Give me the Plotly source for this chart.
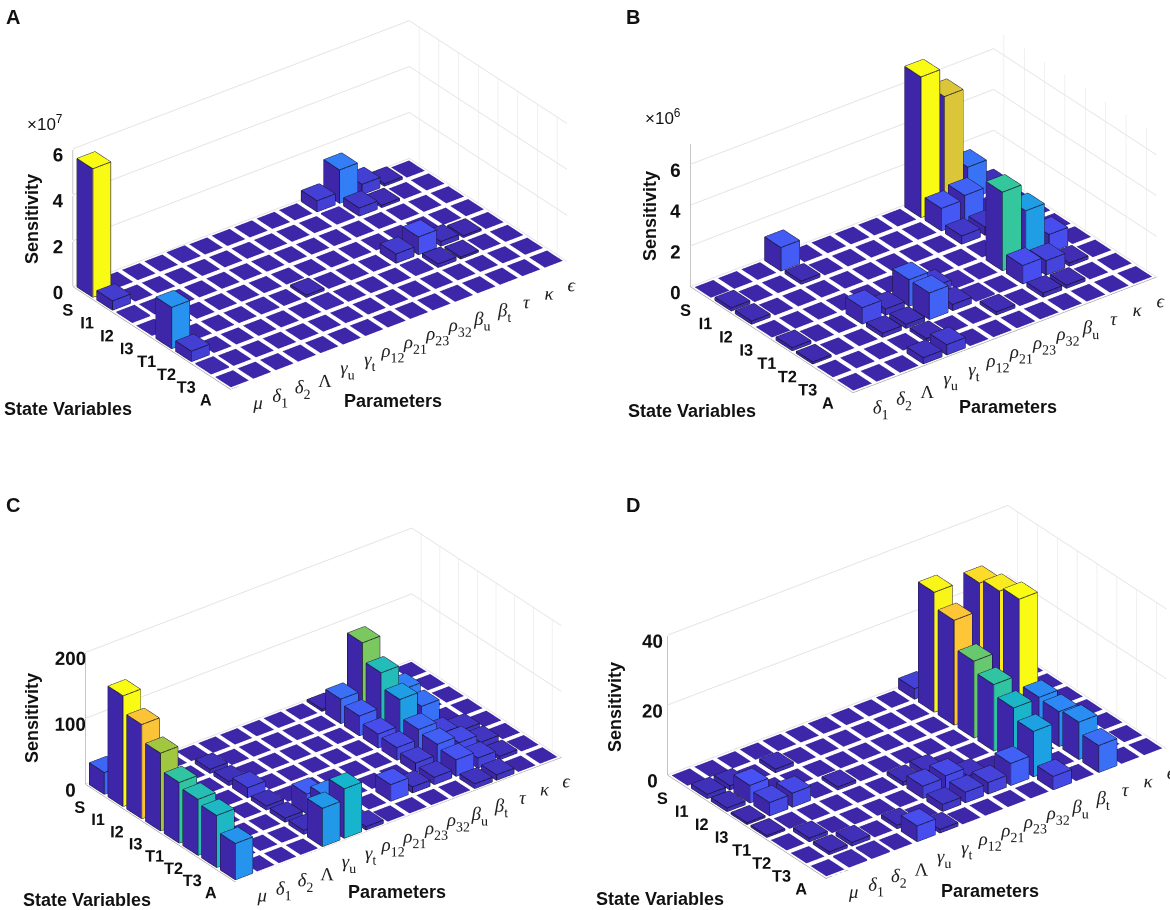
import plotly.graph_objects as go

STATES = ["S", "I1", "I2", "I3", "T1", "T2", "T3", "A"]
P15 = ["<i>μ</i>", "<i>δ</i><sub>1</sub>", "<i>δ</i><sub>2</sub>", "Λ", "<i>γ</i><sub>u</sub>", "<i>γ</i><sub>t</sub>",
       "<i>ρ</i><sub>12</sub>", "<i>ρ</i><sub>21</sub>", "<i>ρ</i><sub>23</sub>", "<i>ρ</i><sub>32</sub>",
       "<i>β</i><sub>u</sub>", "<i>β</i><sub>t</sub>", "<i>τ</i>", "<i>κ</i>", "<i>ϵ</i>"]
P13 = ["<i>δ</i><sub>1</sub>", "<i>δ</i><sub>2</sub>", "Λ", "<i>γ</i><sub>u</sub>", "<i>γ</i><sub>t</sub>",
       "<i>ρ</i><sub>12</sub>", "<i>ρ</i><sub>21</sub>", "<i>ρ</i><sub>23</sub>", "<i>ρ</i><sub>32</sub>",
       "<i>β</i><sub>u</sub>", "<i>τ</i>", "<i>κ</i>", "<i>ϵ</i>"]

VALUES_A = [
    [5.6, 0, 0, 0, .03, 0, 0, 0, 0, 0, .48, 1.45, .45, .1, 0],
    [.4, 0, 0, 0, 0, 0, 0, 0, 0, 0, .06, .35, .1, 0, 0],
    [.05, 0, 0, 0, 0, 0, 0, 0, 0, 0, 0, 0, 0, 0, 0],
    [0, 0, 0, 0, 0, 0, 0, 0, 0, 0, 0, 0, 0, 0, 0],
    [1.8, 0, 0, 0, .04, 0, .1, 0, 0, 0, .4, .77, .2, .08, 0],
    [.45, 0, 0, 0, 0, 0, .05, 0, 0, 0, .05, .15, .08, 0, 0],
    [.05, 0, 0, 0, 0, 0, 0, 0, 0, 0, 0, 0, 0, 0, 0],
    [0, 0, 0, 0, 0, 0, 0, 0, 0, 0, 0, 0, 0, 0, 0],
]
VALUES_B = [
    [0, 0, 0, 1.15, 0, 0, 0, 0, 0, 6.9, 5.5, 1.6, .2],
    [.15, 0, 0, .15, 0, 0, 0, 0, 0, 1.1, 1.3, 0, 0],
    [.15, 0, 0, 0, 0, 0, 0, 0, 0, .4, .4, .1, 0],
    [0, 0, 0, 0, 0, 0, 0, 0, 0, 0, 0, 0, 0],
    [.15, 0, 0, .8, .3, 1.3, .5, .05, 0, 3.85, 2.5, .9, 0],
    [.1, 0, 0, .2, .2, 1.3, .3, .08, 0, .9, .7, .15, 0],
    [0, 0, 0, 0, .15, 0, 0, .15, 0, .2, .15, 0, 0],
    [0, 0, 0, .3, .5, 0, 0, 0, 0, 0, 0, 0, 0],
]
VALUES_C = [
    [33, 0, 0, 0, 0, 0, 0, 0, 0, 0, 3, 0, 0, 0, 0],
    [168, 0, 0, 0, 6, 0, 0, 0, 0, 0, 37, 110, 0, 0, 0],
    [143, 0, 0, 0, 6, 0, 0, 0, 0, 0, 30, 83, 45, 0, 0],
    [118, 0, 0, 0, 15, 0, 0, 0, 0, 0, 21, 61, 38, 0, 0],
    [92, 0, 0, 0, 6, 0, 0, 0, 0, 0, 19, 34, 15, 8, 0],
    [85, 0, 0, 0, 6, 30, 0, 0, 0, 0, 14, 30, 20, 8, 0],
    [79, 0, 0, 0, 6, 45, 0, 0, 25, 9, 11, 25, 15, 5, 0],
    [55, 0, 0, 0, 58, 75, 5, 0, 0, 0, 0, 7, 8, 0, 0],
]
VALUES_D = [
    [0, 0, 0, 0, 0, 0, 0, 0, 0, 0, 3, 0, 0, 0, 0],
    [1.2, 1.2, 0, 1, 0, 0, 0, 0, 0, 0, 34.3, 0, 32, 0, 0],
    [1, 5, 0, 0, 0, 0, 0, 0, 0, 0, 30, 0, 33.4, 0, 0],
    [.5, 3.8, 4, 0, .8, 0, 0, 0, 0, 0, 22, 0, 34.8, 0, 0],
    [.5, 0, 0, 0, 0, 0, 1, 1.5, 0, 0, 19, 0, 10.4, 0, 0],
    [0, 1, 0, 0, 0, 0, 3.5, 4, 1.5, 0, 16, 0, 10, 0, 0],
    [0, .8, 1, 0, 1, 0, 2, 3, 3.3, 6.3, 13, 0, 10.7, 0, 0],
    [0, .4, .4, 0, 4.5, 1, 0, 0, 0, 0, 3.8, 0, 7.7, 0, 0],
]

PARULA = [(62, 38, 168), (72, 82, 244), (46, 135, 247), (18, 177, 214),
          (55, 200, 151), (171, 199, 57), (254, 195, 56), (249, 251, 21)]
W, H = 1170, 910
K = 1 / 228.0          # scene units per pixel (calibration)
EYE = (-.526, -.688, .498)
E1 = (.794, -.607, 0)
E2 = (.302, .395, .867)
EYE_D = 2.0
FLOOR_PAD = 11         # pixels of empty z range below zero, so axis labels sit clear of the floor
AXIS_COLOR = "#8a8a8a"
GRID_COLOR = "#e3e3e3"


def parula(t):
    t = max(0, min(1, t)) * 7
    i = min(int(t), 6)
    f = t - i
    a, b = PARULA[i], PARULA[i + 1]
    return "rgb(%d,%d,%d)" % tuple(round(a[k] + (b[k] - a[k]) * f) for k in range(3))


def bars(values, zmax):
    xs, ys, zs, ii, jj, kk, cols = [], [], [], [], [], [], []
    ex, ey, ez = [], [], []
    vmax = max(max(r) for r in values)
    w = .4
    for r, row in enumerate(values):
        for c, v in enumerate(row):
            x0, x1, y0, y1 = c + .5 - w, c + .5 + w, r + .5 - w, r + .5 + w
            n = len(xs)
            for z in (0, v):
                xs += [x0, x1, x1, x0]
                ys += [y0, y0, y1, y1]
                zs += [z, z, z, z]
            col = parula(v / vmax)
            base = parula(0)
            faces = [((4, 5, 6, 7), col), ((3, 2, 6, 7), col), ((0, 3, 7, 4), base),
                     ((1, 2, 6, 5), base), ((0, 1, 5, 4), base)]
            for f, fc in faces:
                ii += [n + f[0], n + f[0]]
                jj += [n + f[1], n + f[2]]
                kk += [n + f[2], n + f[3]]
                cols += [fc, fc]
            if v > zmax * .012:
                for a, b in [((x0, y0), (x1, y0)), ((x1, y0), (x1, y1)), ((x1, y1), (x0, y1)), ((x0, y1), (x0, y0))]:
                    ex += [a[0], b[0], None]
                    ey += [a[1], b[1], None]
                    ez += [v, v, None]
                for a in [(x0, y0), (x0, y1), (x1, y1)]:
                    ex += [a[0], a[0], None]
                    ey += [a[1], a[1], None]
                    ez += [0, v, None]
                for a, b in [((x0, y0), (x0, y1)), ((x0, y1), (x1, y1))]:
                    ex += [a[0], b[0], None]
                    ey += [a[1], b[1], None]
                    ez += [0, 0, None]
    return xs, ys, zs, ii, jj, kk, cols, ex, ey, ez


PANELS = [
    dict(name="scene", values=VALUES_A, params=P15, zmax=6, zticks=[0, 2, 4, 6], center=(320, 205), xlen=337, ylen=158, zlen=138, dom=(0, 585, 0, 455)),
    dict(name="scene2", values=VALUES_B, params=P13, zmax=7, zticks=[0, 2, 4, 6], center=(923.5, 210.5), xlen=304, ylen=163, zlen=143, dom=(585, 1170, 0, 455)),
    dict(name="scene3", values=VALUES_C, params=P15, zmax=200, zticks=[0, 100, 200], center=(323.5, 705), xlen=327, ylen=150, zlen=132, dom=(0, 585, 455, 910)),
    dict(name="scene4", values=VALUES_D, params=P15, zmax=40, zticks=[0, 20, 40], center=(917, 692), xlen=341, ylen=159, zlen=140, dom=(585, 1170, 455, 910)),
]

fig = go.Figure()
layout = {}
for p in PANELS:
    vals = p["values"]
    nc = len(vals[0])
    nr = len(vals)
    zmax = p["zmax"]
    zlow = -zmax * FLOOR_PAD / p["zlen"]
    xs, ys, zs, ii, jj, kk, cols, ex, ey, ez = bars(vals, zmax)
    fig.add_trace(go.Mesh3d(x=xs, y=ys, z=zs, i=ii, j=jj, k=kk, facecolor=cols, flatshading=True,
                            lighting=dict(ambient=1, diffuse=0, specular=0, fresnel=0, roughness=1),
                            hoverinfo="skip", showscale=False, scene=p["name"]))
    fig.add_trace(go.Scatter3d(x=ex, y=ey, z=ez, mode="lines", line=dict(color="#111122", width=1.6),
                               hoverinfo="skip", showlegend=False, scene=p["name"]))
    gx, gy, gz = [], [], []
    for r in range(nr):
        gx += [nc, nc, None]
        gy += [r + .5, r + .5, None]
        gz += [0, zmax, None]
    fig.add_trace(go.Scatter3d(x=gx, y=gy, z=gz, mode="lines", line=dict(color=GRID_COLOR, width=1),
                               hoverinfo="skip", showlegend=False, scene=p["name"]))
    # axis lines and tick marks on the floor plane z = 0
    ax = [0, nc, None, 0, 0, None, 0, 0, None]
    ay = [nr, nr, None, 0, nr, None, 0, 0, None]
    az = [0, 0, None, 0, 0, None, 0, zmax, None]
    for r in range(nr):
        ax += [0, -.3, None]
        ay += [r + .5, r + .5, None]
        az += [0, 0, None]
    for c in range(nc):
        ax += [c + .5, c + .5, None]
        ay += [nr, nr + .2, None]
        az += [0, 0, None]
    for t in p["zticks"]:
        ax += [0, 0, None]
        ay += [0, -.3, None]
        az += [t, t, None]
    fig.add_trace(go.Scatter3d(x=ax, y=ay, z=az, mode="lines", line=dict(color=AXIS_COLOR, width=1),
                               hoverinfo="skip", showlegend=False, scene=p["name"]))
    cx, cy = p["center"]
    cy += FLOOR_PAD / 2
    d0, d1, d2, d3 = p["dom"]
    dx, dy = cx - (d0 + d1) / 2, cy - (d2 + d3) / 2
    shift = [K * (-dx * E1[i] + dy * E2[i]) for i in range(3)]
    common = dict(showbackground=False, showspikes=False, title=dict(text=""), zeroline=False,
                  showline=False, ticks="outside", tickcolor="rgba(255,255,255,0)", tickangle=0)
    layout[p["name"]] = dict(
        domain=dict(x=[d0 / W, d1 / W], y=[1 - d3 / H, 1 - d2 / H]),
        xaxis=dict(range=[0, nc], tickmode="array", tickvals=[c + .5 for c in range(nc)],
                   ticktext=p["params"], ticklen=1,
                   tickfont=dict(family="Liberation Serif", size=15, color="#222"), showgrid=False, **common),
        yaxis=dict(range=[nr, 0], tickmode="array", tickvals=[r + .5 for r in range(nr)], ticklen=8,
                   ticktext=["<b>%s</b>" % s for s in STATES],
                   tickfont=dict(family="Liberation Sans", size=14, color="#111"), showgrid=False, **common),
        zaxis=dict(range=[zlow, zmax], tickmode="array", tickvals=p["zticks"], ticklen=5,
                   ticktext=["<b>%d</b>" % t for t in p["zticks"]],
                   tickfont=dict(family="Liberation Sans", size=15, color="#111"), showgrid=True, gridcolor=GRID_COLOR, **common),
        aspectmode="manual",
        aspectratio=dict(x=K * p["xlen"] / .794, y=K * p["ylen"] / .607, z=K * (p["zlen"] + FLOOR_PAD) / .867),
        camera=dict(projection=dict(type="orthographic"), up=dict(x=0, y=0, z=1),
                    center=dict(x=shift[0], y=shift[1], z=shift[2]),
                    eye=dict(x=EYE[0] * EYE_D + shift[0], y=EYE[1] * EYE_D + shift[1], z=EYE[2] * EYE_D + shift[2])),
        bgcolor="rgba(0,0,0,0)",
    )


def note(x, y, text, size=18, angle=0, anchor="left", family="Liberation Sans"):
    return dict(x=x / W, y=1 - y / H, xref="paper", yref="paper", text=text, showarrow=False, textangle=angle,
                xanchor=anchor, yanchor="middle", font=dict(family=family, size=size, color="#111"))


notes = [
    note(4, 17, "<b>A</b>", 20), note(624, 17, "<b>B</b>", 20), note(4, 505, "<b>C</b>", 20), note(624, 505, "<b>D</b>", 20),
    note(2, 409, "<b>State Variables</b>"), note(626, 411, "<b>State Variables</b>"),
    note(21, 900, "<b>State Variables</b>"), note(594, 899, "<b>State Variables</b>"),
    note(342, 401, "<b>Parameters</b>"), note(957, 407, "<b>Parameters</b>"),
    note(346, 892, "<b>Parameters</b>"), note(939, 891, "<b>Parameters</b>"),
    note(32, 219, "<b>Sensitivity</b>", 18, -90, "center"), note(650, 216, "<b>Sensitivity</b>", 18, -90, "center"),
    note(32, 718, "<b>Sensitivity</b>", 18, -90, "center"), note(615, 707, "<b>Sensitivity</b>", 18, -90, "center"),
    note(25, 123, "×10<sup>7</sup>", 17), note(643, 117, "×10<sup>6</sup>", 17),
]

fig.update_layout(width=W, height=H, margin=dict(l=0, r=0, t=0, b=0), paper_bgcolor="white", showlegend=False,
                  annotations=notes, **layout)
fig.write_html("out.html", config=dict(displayModeBar=False),
               post_script="document.body.style.margin='0';document.body.style.overflow='hidden';")
